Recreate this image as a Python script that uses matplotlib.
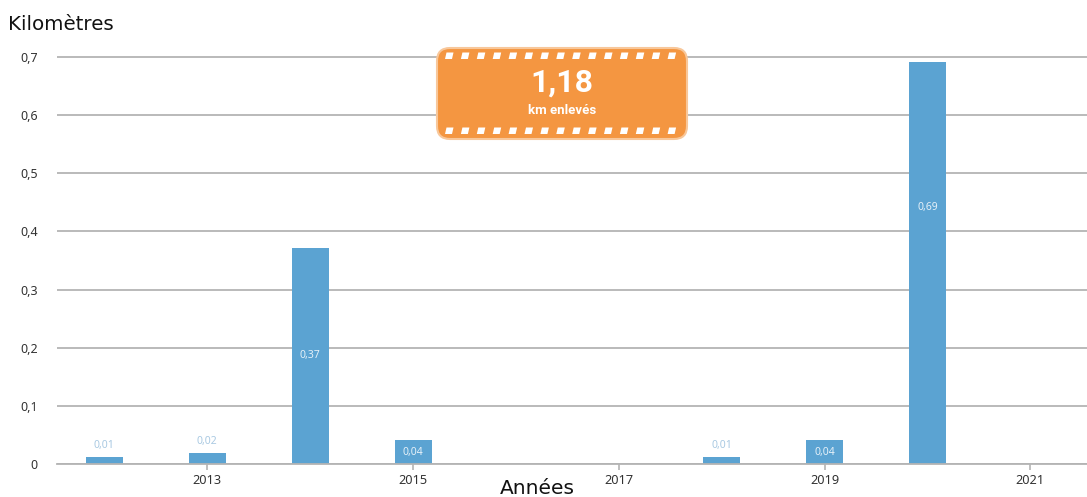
import numpy as np
import matplotlib.pyplot as plt
import matplotlib as mpl
from matplotlib.patches import FancyBboxPatch, Polygon

mpl.rcParams.update({
    'font.family': ['DejaVu Sans'],
})

# ---------------------------------------------------------------------------
# Data
# ---------------------------------------------------------------------------
years = [2012, 2013, 2014, 2015, 2018, 2019, 2020]
km_removed = [0.012, 0.019, 0.372, 0.041, 0.012, 0.041, 0.692]
year_ticks = [2013, 2015, 2017, 2019, 2021]
y_ticks = [0, 0.1, 0.2, 0.3, 0.4, 0.5, 0.6, 0.7]
total_label = '1,18'
total_caption = 'km enlevés'

BAR = '#5ba3d2'
GRID = '#b4b4b4'
TXT = '#333333'
ORANGE = '#f49641'


def fr(v):
    return f'{v:.2f}'.replace('.', ',')


W, H = 1087, 497
# y = 0 at pixel 464, 0.7 at pixel 57, a bit of headroom so the top grid line is whole
px_per_unit = (464 - 57) / 0.7
ytop = 0.705
ax_top = 464 - ytop * px_per_unit
fig = plt.figure(figsize=(W / 100, H / 100), dpi=100)
ax = fig.add_axes([57 / W, 1 - 464 / H, 1 - 57 / W, (464 - ax_top) / H])

ax.bar(years, km_removed, width=0.36, color=BAR, zorder=3)

ax.set_xlim(2011.54, 2021.55)
ax.set_ylim(0, ytop)
ax.set_yticks(y_ticks)
ax.set_yticklabels(['0'] + [f'{t:.1f}'.replace('.', ',') for t in y_ticks[1:]],
                   family='Noto Sans', fontsize=9, color=TXT)
ax.set_xticks(year_ticks)
ax.set_xticklabels([str(y) for y in year_ticks], family='Noto Sans',
                   fontsize=9.2, color=TXT)
ax.tick_params(axis='y', length=0, pad=14)
ax.tick_params(axis='x', length=4, color=GRID, width=1.2, pad=3)
ax.grid(axis='y', color=GRID, linewidth=1.3, zorder=0)
for s in ['top', 'right', 'left']:
    ax.spines[s].set_visible(False)
ax.spines['bottom'].set_color(GRID)
ax.spines['bottom'].set_linewidth(1.3)
ax.spines['bottom'].set_zorder(4)

# value labels
for x, v in zip(years, km_removed):
    if v < 0.03:
        ax.annotate(fr(v), (x, v), xytext=(0, 4), textcoords='offset points',
                    ha='center', va='bottom', fontsize=7.5, color='#a9c9e2',
                    family='Noto Sans', zorder=5)
    else:
        yl = v / 2 if v < 0.5 else v - 0.25
        ax.text(x, yl, fr(v), ha='center', va='center', fontsize=7.5,
                color='#e4f0f8', family='Noto Sans', zorder=5)

fig.text(8 / W, 1 - 24 / H, 'Kilomètres', fontsize=14.3, color='#111111',
         ha='left', va='center')
fig.text(537 / W, 1 - 489 / H, 'Années', fontsize=14.5, color='#111111',
         ha='center', va='center')

# badge with total
bx = fig.add_axes([434 / W, 1 - 142 / H, 256 / W, 97 / H])
bx.set_xlim(0, 256)
bx.set_ylim(0, 97)
bx.axis('off')
bx.add_patch(FancyBboxPatch((3, 3), 250, 91,
                            boxstyle='round,pad=0,rounding_size=13',
                            facecolor=ORANGE, edgecolor='#f8c79a',
                            linewidth=1.5))
n_dash = 15
for i in range(n_dash):
    x0 = 11 + i * 15.9
    for y0 in (83, 8):
        bx.add_patch(Polygon([(x0, y0), (x0 + 7, y0), (x0 + 8.5, y0 + 6.5),
                              (x0 + 1.5, y0 + 6.5)], closed=True,
                             facecolor='white', edgecolor='none'))
bx.text(128, 59, total_label, ha='center', va='center', fontsize=23,
        fontweight='bold', color='white', family='Roboto')
bx.text(128, 32, total_caption, ha='center', va='center', fontsize=9.5,
        fontweight='bold', color='white', family='Roboto')

fig.savefig('out.png', dpi=100, facecolor='white')
